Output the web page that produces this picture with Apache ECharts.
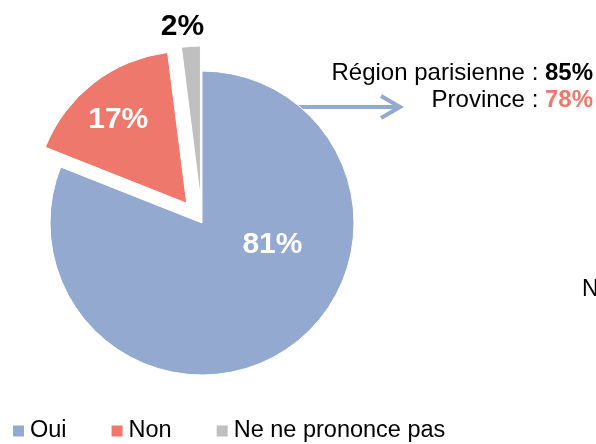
<!DOCTYPE html>
<html>
<head>
<meta charset="utf-8">
<script src="https://cdn.jsdelivr.net/npm/echarts@6/dist/echarts.min.js"></script>
<style>html,body{margin:0;padding:0;background:#fff}#c{width:596px;height:444px}</style>
</head>
<body>
<div id="c"></div>
<script>
const categories = ['Oui', 'Non', 'Ne ne prononce pas'];
const values = [81, 17, 2];
const exploded = [false, true, true];
const noteLines = [
  { label: 'Région parisienne : ', value: '85%' },
  { label: 'Province : ', value: '78%' }
];

const colors = ['#93A9D0', '#EE786C', '#BFBFBF'];
const labelColors = ['#fff', '#fff', '#000'];
const labelOffsets = [[26, -44], [-20, -21], [-13, -92]];
const noteValueColors = ['#000', '#EE786C'];
const FONT = 'Liberation Sans, Arial, sans-serif';

const chart = echarts.init(document.getElementById('c'), null, { renderer: 'canvas' });

const data = categories.map((name, i) => ({
  name,
  value: values[i],
  selected: exploded[i],
  itemStyle: { color: colors[i] },
  label: { color: labelColors[i], offset: labelOffsets[i] },
  select: { label: { color: labelColors[i], offset: labelOffsets[i] } }
}));

const noteGraphics = noteLines.map((ln, i) => ({
  type: 'text',
  right: 3,
  top: [61, 88][i],
  style: {
    text: '{a|' + ln.label + '}{b|' + ln.value + '}',
    align: 'right',
    rich: {
      a: { fontFamily: FONT, fontSize: 24, fill: '#000' },
      b: { fontFamily: FONT, fontSize: 24, fill: noteValueColors[i], fontWeight: 'bold' }
    }
  }
}));

chart.setOption({
  animation: false,
  legend: {
    left: 6,
    top: 414,
    itemWidth: 13,
    itemHeight: 13,
    itemGap: 43,
    icon: 'rect',
    selectedMode: false,
    textStyle: { fontFamily: FONT, fontSize: 23.5, color: '#000' },
    data: categories
  },
  series: [{
    type: 'pie',
    center: [202, 223],
    radius: 152,
    startAngle: 90,
    clockwise: true,
    selectedMode: 'multiple',
    selectedOffset: 25,
    avoidLabelOverlap: false,
    itemStyle: { borderColor: '#fff', borderWidth: 1 },
    emphasis: { disabled: true },
    select: { itemStyle: { borderColor: '#fff', borderWidth: 1 } },
    label: {
      show: true,
      position: 'inside',
      formatter: '{c}%',
      fontFamily: FONT,
      fontSize: 30,
      fontWeight: 'bold'
    },
    labelLine: { show: false },
    data: data
  }],
  graphic: noteGraphics.concat([
    {
      type: 'polyline',
      shape: { points: [[292, 107], [399, 107]] },
      style: { stroke: '#93A9D0', lineWidth: 4, fill: null }
    },
    {
      type: 'polyline',
      shape: { points: [[381, 96], [400, 107], [381, 118]] },
      style: { stroke: '#93A9D0', lineWidth: 4, fill: null, lineJoin: 'miter' }
    },
    {
      type: 'text',
      left: 582,
      top: 278,
      style: { text: 'N', fontFamily: FONT, fontSize: 23, fill: '#000' }
    }
  ])
});
</script>
</body>
</html>
